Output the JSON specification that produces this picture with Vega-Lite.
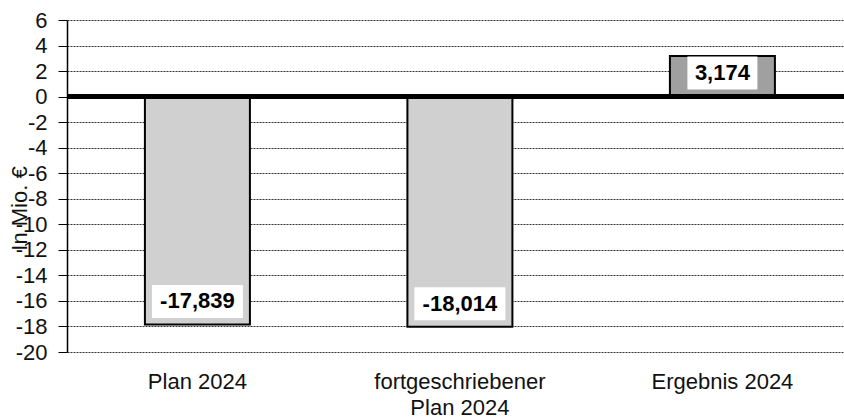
{
  "$schema": "https://vega.github.io/schema/vega-lite/v6.json",
  "autosize": "none",
  "padding": {"left": 67, "top": 20, "right": 0, "bottom": 67},
  "width": 777,
  "height": 332,
  "background": "white",
  "config": {
    "font": "Liberation Sans",
    "view": {"stroke": null},
    "locale": {
      "number": {"decimal": ",", "thousands": ".", "grouping": [3], "currency": ["", " €"], "minus": "-"}
    }
  },
  "data": {
    "values": [
      {"kategorie": "Plan 2024", "wert": -17.839},
      {"kategorie": "fortgeschriebener Plan 2024", "wert": -18.014},
      {"kategorie": "Ergebnis 2024", "wert": 3.174}
    ]
  },
  "encoding": {
    "y": {
      "field": "wert",
      "type": "quantitative",
      "scale": {"domain": [-20, 6], "nice": false, "zero": false},
      "axis": {
        "values": [-20, -18, -16, -14, -12, -10, -8, -6, -4, -2, 0, 2, 4, 6],
        "format": "d",
        "labelOverlap": false,
        "title": "In Mio. €",
        "titleFontSize": 22,
        "titleFontWeight": "normal",
        "titleColor": "#111",
        "titleAngle": -90,
        "titleAlign": "center",
        "titleBaseline": "middle",
        "titleX": -48,
        "titleY": 188,
        "labelFontSize": 22,
        "labelColor": "#111",
        "labelPadding": 11,
        "tickSize": 9,
        "tickColor": "black",
        "tickWidth": 1,
        "domainColor": "black",
        "domainWidth": 1.5,
        "grid": true,
        "gridColor": "#333",
        "gridWidth": 1,
        "gridDash": [2, 1]
      }
    }
  },
  "layer": [
    {
      "mark": {"type": "bar", "stroke": "black", "strokeWidth": 2},
      "encoding": {
        "x": {
          "field": "kategorie",
          "type": "nominal",
          "sort": null,
          "scale": {"paddingInner": 0.6, "paddingOuter": 0.28, "align": 0.53},
          "axis": {
            "title": null,
            "domain": false,
            "ticks": false,
            "labelAngle": 0,
            "labelFontSize": 22,
            "labelColor": "#111",
            "labelPadding": 19,
            "labelLineHeight": 26,
            "labelBaseline": "top",
            "labelExpr": "datum.label == 'fortgeschriebener Plan 2024' ? ['fortgeschriebener', 'Plan 2024'] : datum.label"
          }
        },
        "fill": {
          "field": "kategorie",
          "type": "nominal",
          "scale": {
            "domain": ["Plan 2024", "fortgeschriebener Plan 2024", "Ergebnis 2024"],
            "range": ["#d0d0d0", "#d0d0d0", "#a0a0a0"]
          },
          "legend": null
        }
      }
    },
    {
      "mark": {"type": "rule", "color": "black", "strokeWidth": 5},
      "encoding": {"y": {"datum": 0}}
    },
    {
      "transform": [{"filter": "datum.wert < 0"}],
      "mark": {"type": "point", "shape": "M-1,-0.3626H1V0.3626H-1Z", "size": 8281, "filled": true, "fill": "white", "opacity": 1, "strokeWidth": 0, "yOffset": -23},
      "encoding": {"x": {"field": "kategorie", "type": "nominal", "sort": null}}
    },
    {
      "transform": [{"filter": "datum.wert > 0"}],
      "mark": {"type": "point", "shape": "M-1,-0.4714H1V0.4714H-1Z", "size": 4900, "filled": true, "fill": "white", "opacity": 1, "strokeWidth": 0, "yOffset": 17},
      "encoding": {"x": {"field": "kategorie", "type": "nominal", "sort": null}}
    },
    {
      "transform": [{"filter": "datum.wert < 0"}],
      "mark": {"type": "text", "fontSize": 22, "fontWeight": "bold", "color": "black", "baseline": "middle", "align": "center", "yOffset": -23},
      "encoding": {
        "x": {"field": "kategorie", "type": "nominal", "sort": null},
        "text": {"field": "wert", "type": "quantitative", "format": ".3f"}
      }
    },
    {
      "transform": [{"filter": "datum.wert > 0"}],
      "mark": {"type": "text", "fontSize": 22, "fontWeight": "bold", "color": "black", "baseline": "middle", "align": "center", "yOffset": 17},
      "encoding": {
        "x": {"field": "kategorie", "type": "nominal", "sort": null},
        "text": {"field": "wert", "type": "quantitative", "format": ".3f"}
      }
    }
  ]
}
